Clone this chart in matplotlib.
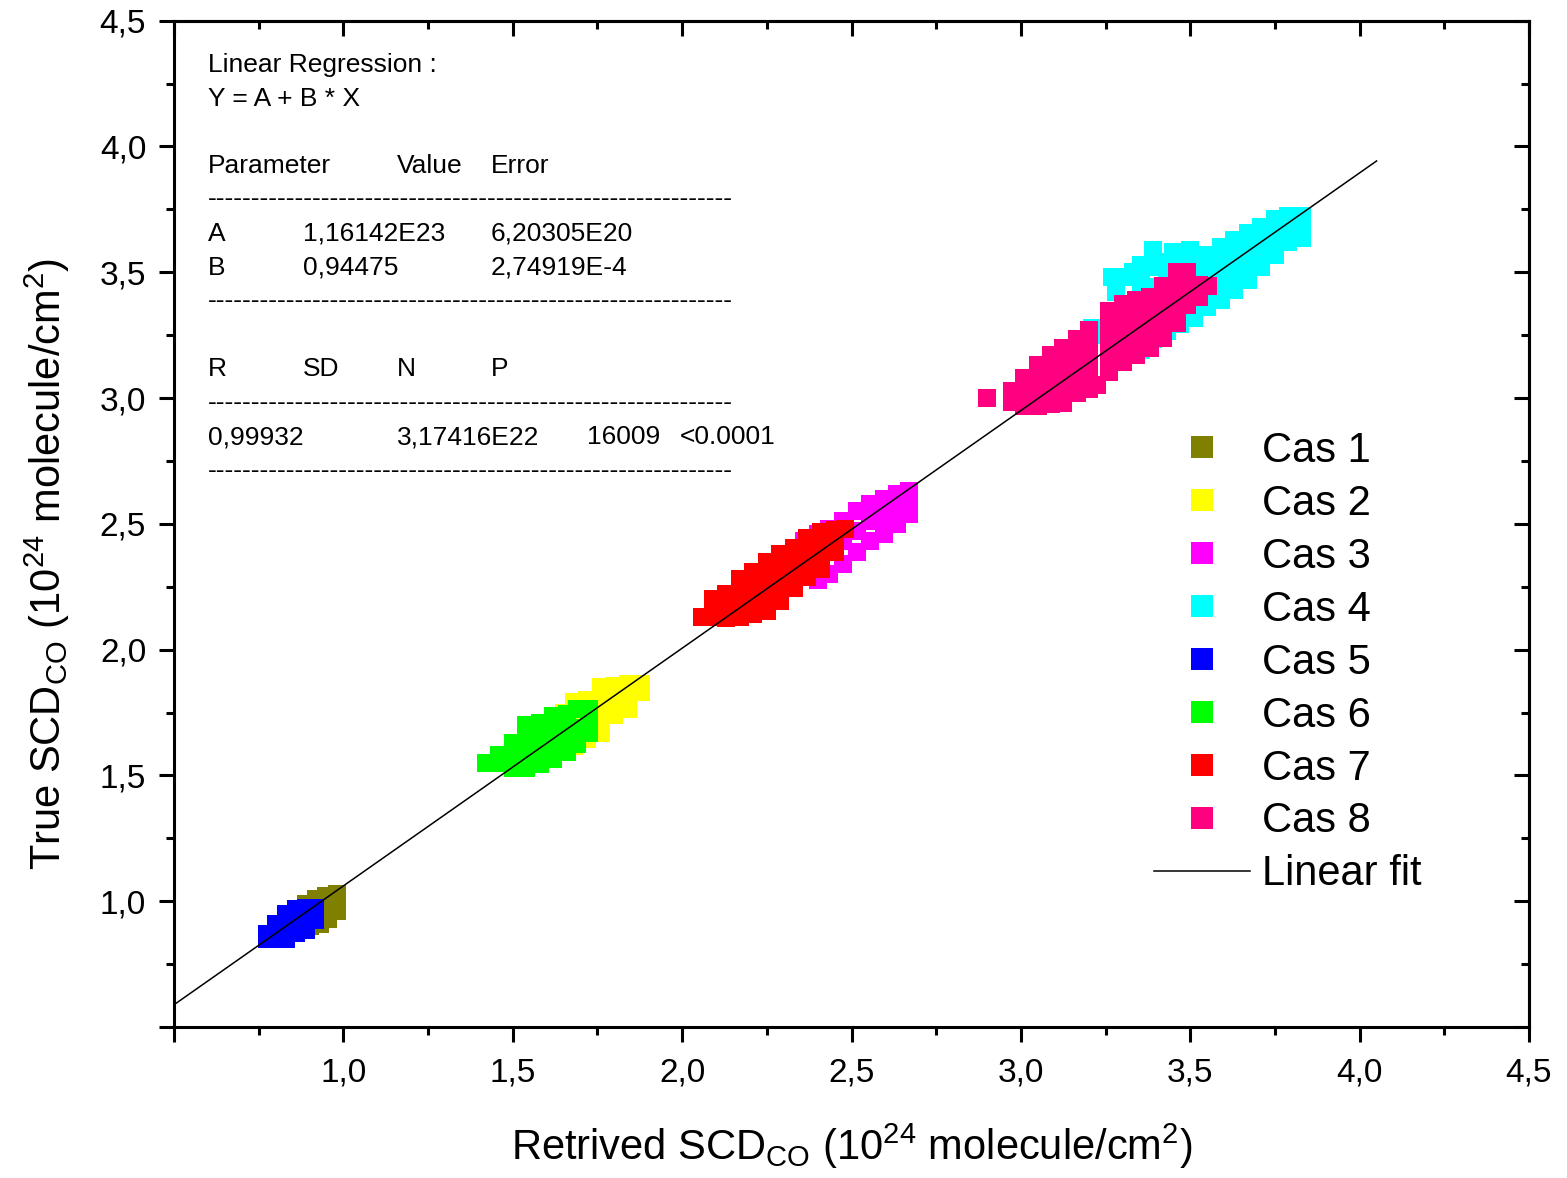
import matplotlib
matplotlib.use('Agg')
import matplotlib.pyplot as plt
from matplotlib.lines import Line2D

plt.rcParams['font.family'] = ['Liberation Sans', 'DejaVu Sans']
plt.rcParams['mathtext.fontset'] = 'custom'
plt.rcParams['mathtext.rm'] = 'Liberation Sans'
plt.rcParams['mathtext.it'] = 'Liberation Sans:italic'
plt.rcParams['mathtext.bf'] = 'Liberation Sans:bold'

# ---------------- data (units of 1e24 molecule/cm^2) ----------------
cas1_x = [0.84, 0.86, 0.87, 0.89, 0.90, 0.90, 0.92, 0.93, 0.93, 0.95, 0.955, 0.955, 0.98, 0.98, 0.98, 0.82, 0.85]
cas1_y = [0.93, 0.96, 0.92, 0.99, 0.94, 0.90, 1.01, 0.96, 0.91, 1.02, 0.97, 0.93, 1.03, 0.99, 0.96, 0.88, 0.89]

cas2_x = [1.88, 1.88, 1.84, 1.84, 1.84, 1.80, 1.80, 1.80, 1.76, 1.76, 1.76, 1.76, 1.72, 1.72, 1.72, 1.72,
          1.68, 1.68, 1.68, 1.68, 1.65, 1.65, 1.65, 1.60, 1.60]
cas2_y = [1.865, 1.83, 1.865, 1.81, 1.765, 1.855, 1.80, 1.74, 1.85, 1.79, 1.73, 1.67, 1.80, 1.74, 1.68, 1.645,
          1.79, 1.73, 1.67, 1.615, 1.75, 1.68, 1.61, 1.62, 1.69]

cas3_x = [2.67, 2.67, 2.67, 2.635, 2.635, 2.635, 2.595, 2.595, 2.595, 2.555, 2.555, 2.555, 2.515, 2.515, 2.515,
          2.475, 2.475, 2.475, 2.435, 2.435, 2.435, 2.40, 2.40, 2.40, 2.36, 2.36, 2.32]
cas3_y = [2.63, 2.57, 2.54, 2.62, 2.56, 2.50, 2.60, 2.53, 2.46, 2.58, 2.51, 2.43, 2.55, 2.47, 2.39,
          2.51, 2.43, 2.34, 2.48, 2.39, 2.30, 2.46, 2.37, 2.275, 2.43, 2.30, 2.36]

cas4_x = [3.39, 3.45, 3.50, 3.27, 3.28, 3.31, 3.33,
          3.83, 3.83, 3.83, 3.79, 3.79, 3.79, 3.75, 3.75, 3.75, 3.71, 3.71, 3.71, 3.71,
          3.67, 3.67, 3.67, 3.67, 3.63, 3.63, 3.63, 3.63, 3.59, 3.59, 3.59, 3.59,
          3.55, 3.55, 3.55, 3.55, 3.51, 3.51, 3.51, 3.51, 3.47, 3.47, 3.47, 3.47,
          3.43, 3.43, 3.43, 3.43, 3.43, 3.39, 3.39, 3.39, 3.39, 3.39,
          3.355, 3.355, 3.355, 3.355, 3.355, 3.355,
          3.30, 3.25, 3.21, 3.15, 3.10]
cas4_y = [3.59, 3.58, 3.59, 3.48, 3.42, 3.48, 3.50,
          3.725, 3.665, 3.635, 3.725, 3.67, 3.62, 3.71, 3.64, 3.57, 3.68, 3.61, 3.56, 3.52,
          3.655, 3.59, 3.53, 3.47, 3.63, 3.56, 3.49, 3.43, 3.60, 3.53, 3.46, 3.39,
          3.57, 3.50, 3.43, 3.36, 3.53, 3.46, 3.39, 3.32, 3.53, 3.43, 3.36, 3.295,
          3.54, 3.47, 3.40, 3.33, 3.265, 3.52, 3.44, 3.37, 3.30, 3.235,
          3.53, 3.47, 3.40, 3.33, 3.26, 3.19,
          3.30, 3.25, 3.28, 3.17, 3.12]

cas5_x = [0.775, 0.775, 0.80, 0.80, 0.80, 0.83, 0.83, 0.83, 0.86, 0.86, 0.86, 0.89, 0.89, 0.89, 0.915, 0.915]
cas5_y = [0.85, 0.87, 0.85, 0.88, 0.91, 0.85, 0.90, 0.95, 0.875, 0.92, 0.97, 0.885, 0.93, 0.975, 0.925, 0.975]

cas6_x = [1.42, 1.46, 1.46, 1.50, 1.50, 1.50, 1.54, 1.54, 1.54, 1.54, 1.58, 1.58, 1.58, 1.58,
          1.62, 1.62, 1.62, 1.62, 1.66, 1.66, 1.66, 1.66, 1.69, 1.69, 1.69, 1.725, 1.725, 1.725]
cas6_y = [1.55, 1.55, 1.58, 1.53, 1.58, 1.63, 1.53, 1.59, 1.65, 1.70, 1.545, 1.61, 1.67, 1.71,
          1.565, 1.63, 1.69, 1.735, 1.595, 1.66, 1.70, 1.745, 1.625, 1.69, 1.765, 1.67, 1.72, 1.765]

cas7_x = [2.06, 2.09, 2.09, 2.13, 2.13, 2.13, 2.17, 2.17, 2.17, 2.17, 2.21, 2.21, 2.21, 2.21,
          2.25, 2.25, 2.25, 2.25, 2.29, 2.29, 2.29, 2.29, 2.33, 2.33, 2.33, 2.33,
          2.37, 2.37, 2.37, 2.37, 2.41, 2.41, 2.41, 2.41, 2.45, 2.45, 2.45, 2.48]
cas7_y = [2.13, 2.13, 2.20, 2.125, 2.175, 2.22, 2.13, 2.19, 2.25, 2.28, 2.14, 2.20, 2.26, 2.31,
          2.155, 2.22, 2.29, 2.35, 2.195, 2.26, 2.32, 2.38, 2.245, 2.31, 2.36, 2.405,
          2.29, 2.35, 2.40, 2.445, 2.32, 2.38, 2.43, 2.468, 2.39, 2.44, 2.475, 2.48]

cas8_x = [2.90, 2.975, 2.975, 3.01, 3.01, 3.01, 3.05, 3.05, 3.05, 3.05, 3.09, 3.09, 3.09, 3.09,
          3.125, 3.125, 3.125, 3.125, 3.125, 3.165, 3.165, 3.165, 3.165, 3.165,
          3.20, 3.20, 3.20, 3.20, 3.20, 3.225, 3.26, 3.26, 3.26, 3.26, 3.26,
          3.30, 3.30, 3.30, 3.30, 3.30, 3.34, 3.34, 3.34, 3.34, 3.34,
          3.38, 3.38, 3.38, 3.38, 3.38, 3.42, 3.42, 3.42, 3.42, 3.42,
          3.46, 3.46, 3.46, 3.46, 3.46, 3.49, 3.49, 3.49, 3.525, 3.525, 3.552]
cas8_y = [3.00, 2.985, 3.03, 2.97, 3.03, 3.08, 2.97, 3.03, 3.09, 3.13, 2.975, 3.04, 3.10, 3.17,
          2.98, 3.04, 3.10, 3.15, 3.20, 3.02, 3.08, 3.14, 3.19, 3.235,
          3.035, 3.10, 3.16, 3.22, 3.27, 3.05, 3.105, 3.17, 3.23, 3.29, 3.345,
          3.145, 3.21, 3.27, 3.33, 3.375, 3.17, 3.23, 3.29, 3.35, 3.39,
          3.20, 3.26, 3.32, 3.36, 3.40, 3.24, 3.30, 3.36, 3.41, 3.447,
          3.30, 3.36, 3.42, 3.47, 3.50, 3.37, 3.43, 3.50, 3.40, 3.45, 3.447]

case_labels = ['Cas 1', 'Cas 2', 'Cas 3', 'Cas 4', 'Cas 5', 'Cas 6', 'Cas 7', 'Cas 8']
case_colors = ['#808000', '#FFFF00', '#FF00FF', '#00FFFF', '#0000FF', '#00FF00', '#FF0000', '#FF0080']
cases_x = [cas1_x, cas2_x, cas3_x, cas4_x, cas5_x, cas6_x, cas7_x, cas8_x]
cases_y = [cas1_y, cas2_y, cas3_y, cas4_y, cas5_y, cas6_y, cas7_y, cas8_y]

fit_A = 0.116142   # 1,16142E23 in units of 1e24
fit_B = 0.94475
fit_x = [0.5, 4.05]

tick_values = [0.5, 1.0, 1.5, 2.0, 2.5, 3.0, 3.5, 4.0, 4.5]
tick_labels = ['', '1,0', '1,5', '2,0', '2,5', '3,0', '3,5', '4,0', '4,5']
minor_values = [0.75, 1.25, 1.75, 2.25, 2.75, 3.25, 3.75, 4.25]

# ---------------- figure ----------------
W, H = 1567, 1178
fig = plt.figure(figsize=(W / 100, H / 100), dpi=100)
ax = fig.add_axes([174 / W, 1 - 1027 / H, (1529 - 174) / W, (1027 - 20.7) / H])

for xs, ys, c, lab in zip(cases_x, cases_y, case_colors, case_labels):
    ax.plot(xs, ys, linestyle='none', marker='s', ms=12.4, mew=0, color=c, label=lab)

fit_y = [fit_A + fit_B * v for v in fit_x]
ax.plot(fit_x, fit_y, color='black', lw=1.1, zorder=5)

ax.set_xlim(0.5, 4.5)
ax.set_ylim(0.5, 4.5)
ax.set_xticks(tick_values)
ax.set_xticklabels(tick_labels)
ax.set_yticks(tick_values)
ax.set_yticklabels(tick_labels)
ax.set_xticks(minor_values, minor=True)
ax.set_yticks(minor_values, minor=True)

for sp in ax.spines.values():
    sp.set_linewidth(2.2)

ax.tick_params(which='both', direction='out', top=False, right=False, width=2.2, labelsize=24)
ax.tick_params(which='major', length=11)
ax.tick_params(axis='x', which='major', pad=11)
ax.tick_params(axis='y', which='major', pad=9)
ax.tick_params(which='minor', length=6)

# inward ticks on the top and right sides
secx = ax.secondary_xaxis('top')
secx.set_xticks(tick_values)
secx.set_xticks(minor_values, minor=True)
secx.tick_params(which='both', direction='in', width=2.2, labeltop=False)
secx.tick_params(which='major', length=11)
secx.tick_params(which='minor', length=6)
secx.spines['top'].set_linewidth(2.2)
secy = ax.secondary_yaxis('right')
secy.set_yticks(tick_values)
secy.set_yticks(minor_values, minor=True)
secy.tick_params(which='both', direction='in', width=2.2, labelright=False)
secy.tick_params(which='major', length=11)
secy.tick_params(which='minor', length=6)
secy.spines['right'].set_linewidth(2.2)

ax.set_xlabel('Retrived SCD$_{\\mathregular{CO}}$ (10$^{\\mathregular{24}}$ molecule/cm$^{\\mathregular{2}}$)',
              fontsize=30)
ax.set_ylabel('True SCD$_{\\mathregular{CO}}$ (10$^{\\mathregular{24}}$ molecule/cm$^{\\mathregular{2}}$)',
              fontsize=30)
ax.xaxis.set_label_coords(0.5, -0.094)
ax.yaxis.set_label_coords(-0.075, 0.46)

# legend
handles = [Line2D([], [], linestyle='none', marker='s', ms=16, mew=0, color=c) for c in case_colors]
handles.append(Line2D([], [], color='black', lw=1.1))
labels = case_labels + ['Linear fit']
ax.legend(handles, labels, loc='upper left', bbox_to_anchor=((1154 - 174) / 1355, (1027 - 431) / 1006.3),
          frameon=False, fontsize=30, handlelength=2.3, handletextpad=0.3, labelspacing=0.31,
          borderpad=0, borderaxespad=0)

# regression report
rep_size = 19
def rep(xp, yp, s):
    fig.text(xp / W, 1 - yp / H, s, fontsize=rep_size, ha='left', va='baseline')

dashes = '-' * 60
rep(208, 72, 'Linear Regression :')
rep(208, 106, 'Y = A + B * X')
rep(208, 173, 'Parameter'); rep(397, 173, 'Value'); rep(491, 173, 'Error')
rep(208, 206, dashes)
rep(208, 241, 'A'); rep(303, 241, '1,16142E23'); rep(491, 241, '6,20305E20')
rep(208, 275, 'B'); rep(303, 275, '0,94475'); rep(491, 275, '2,74919E-4')
rep(208, 308, dashes)
rep(208, 376, 'R'); rep(303, 376, 'SD'); rep(397, 376, 'N'); rep(491, 376, 'P')
rep(208, 410, dashes)
rep(208, 444, '0,99932'); rep(397, 444, '3,17416E22'); rep(587, 444, '16009'); rep(680, 444, '<0.0001')
rep(208, 478, dashes)

fig.savefig('out.png', dpi=100)
